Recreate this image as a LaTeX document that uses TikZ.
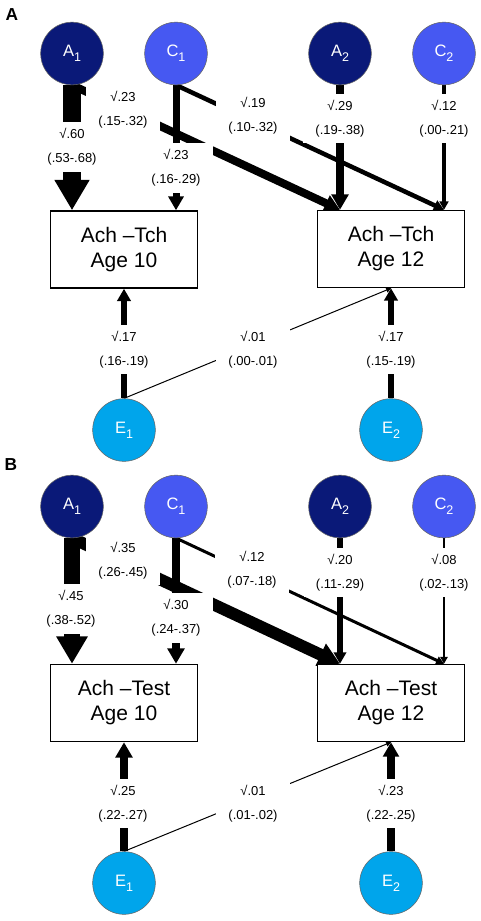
\documentclass[tikz,border=0pt]{standalone}
\usepackage{fontspec}
\setmainfont{Liberation Sans}
\usetikzlibrary{arrows.meta}

\definecolor{acol}{RGB}{10,25,120}
\definecolor{ccol}{RGB}{70,88,242}
\definecolor{ecol}{RGB}{0,165,235}

\newcommand{\latsub}[1]{\raisebox{-3.5pt}{\fontsize{9.4}{9.4}\selectfont #1}}

\pgfdeclarelayer{back}
\pgfsetlayers{back,main}

\tikzset{every picture/.style={line width=0.75pt}}
\tikzset{
	latent/.style={circle, draw=black!60, line width=0.4pt, minimum size=47pt, inner sep=0pt, text=white, font=\fontsize{12.4}{12.4}\selectfont},
	measure/.style={draw, fill=white, line width=1.1pt, minimum width=110.25pt, minimum height=57.75pt, align=center, font=\fontsize{15.75}{18.75}\selectfont},
	estim/.style={fill=white, align=center, inner xsep=9pt, inner ysep=4.6pt, font=\fontsize{9.75}{18}\selectfont},
	pathcoef/.style={-{Triangle[length=2.5pt 1.5,width=2.5pt 1.65]}},
	panel/.style={font=\fontsize{13}{13}\selectfont\bfseries}
}

\begin{document}
\begin{tikzpicture}[x=0.75pt,y=0.75pt,yscale=-1,xscale=1]
	\useasboundingbox (0,0) rectangle (481,921);

	% ---------- Panel A ----------
	\node [panel] (pa) at (12,14.5) {A};
	%Shape: Circles
	\node [latent, fill=acol] (A1a) at (72,53.5) {A\latsub{1}};
	\node [latent, fill=ccol] (C1a) at (176,53.5) {C\latsub{1}};
	\node [latent, fill=acol] (A2a) at (340,53.5) {A\latsub{2}};
	\node [latent, fill=ccol] (C2a) at (444,53.5) {C\latsub{2}};
	\node [latent, fill=ecol] (E1a) at (124,430) {E\latsub{1}};
	\node [latent, fill=ecol] (E2a) at (391,430) {E\latsub{2}};
	%Shape: Rectangles
	\node [measure] (T10a) at (124,249.5) {Ach –Tch\\Age 10};
	\node [measure] (T12a) at (391,249) {Ach –Tch\\Age 12};

	%Straight Lines
	\begin{pgfonlayer}{back}
	\draw [pathcoef, line width=13.5pt] (A1a.south) -- (A1a.south |- T10a.north);
	\draw [pathcoef, line width=6pt] (A1a.south) -- (A2a.south |- T12a.north);
	\draw [pathcoef, line width=5.25pt] (C1a.south) -- (C1a.south |- T10a.north);
	\draw [pathcoef, line width=3.4pt] (C1a.south) -- (C2a.south |- T12a.north);
	\draw [pathcoef, line width=6pt] (A2a.south) -- (A2a.south |- T12a.north);
	\draw [pathcoef, line width=2.5pt] (C2a.south) -- (C2a.south |- T12a.north);
	\draw [pathcoef, line width=4.5pt] (E1a.north) -- (T10a.south);
	\draw [pathcoef, line width=0.75pt] (E1a.north) -- (T12a.south);
	\draw [pathcoef, line width=4.5pt] (E2a.north) -- (T12a.south);
	\end{pgfonlayer}

	% Text Node
	\node [estim] (a1) at (72,147) {√.60\\(.53-.68)};
	% Text Node
	\node [estim] (a2) at (123,109.5) {√.23\\(.15-.32)};
	% Text Node
	\node [estim] (a3) at (176,168) {√.23\\(.16-.29)};
	% Text Node
	\node [estim] (a4) at (253,116) {√.19\\(.10-.32)};
	% Text Node
	\node [estim] (a5) at (340,118.5) {√.29\\(.19-.38)};
	% Text Node
	\node [estim] (a6) at (444,118.5) {√.12\\(.00-.21)};
	% Text Node
	\node [estim] (a7) at (124,349.5) {√.17\\(.16-.19)};
	% Text Node
	\node [estim] (a8) at (253,349.5) {√.01\\(.00-.01)};
	% Text Node
	\node [estim] (a9) at (391,349.5) {√.17\\(.15-.19)};

	% ---------- Panel B ----------
	\node [panel] (pb) at (11,465) {B};
	%Shape: Circles
	\node [latent, fill=acol] (A1b) at (72,506.5) {A\latsub{1}};
	\node [latent, fill=ccol] (C1b) at (176,506.5) {C\latsub{1}};
	\node [latent, fill=acol] (A2b) at (340,506.5) {A\latsub{2}};
	\node [latent, fill=ccol] (C2b) at (444,506.5) {C\latsub{2}};
	\node [latent, fill=ecol] (E1b) at (124,883) {E\latsub{1}};
	\node [latent, fill=ecol] (E2b) at (391,883) {E\latsub{2}};
	%Shape: Rectangles
	\node [measure] (T10b) at (124,703) {Ach –Test\\Age 10};
	\node [measure] (T12b) at (391,703) {Ach –Test\\Age 12};

	%Straight Lines
	\begin{pgfonlayer}{back}
	\draw [pathcoef, line width=12pt] (A1b.south) -- (A1b.south |- T10b.north);
	\draw [pathcoef, line width=9pt] (A1b.south) -- (A2b.south |- T12b.north);
	\draw [pathcoef, line width=6pt] (C1b.south) -- (C1b.south |- T10b.north);
	\draw [pathcoef, line width=2.25pt] (C1b.south) -- (C2b.south |- T12b.north);
	\draw [pathcoef, line width=4pt] (A2b.south) -- (A2b.south |- T12b.north);
	\draw [pathcoef, line width=1.75pt] (C2b.south) -- (C2b.south |- T12b.north);
	\draw [pathcoef, line width=6pt] (E1b.north) -- (T10b.south);
	\draw [pathcoef, line width=0.75pt] (E1b.north) -- (T12b.south);
	\draw [pathcoef, line width=5.5pt] (E2b.north) -- (T12b.south);
	\end{pgfonlayer}

	% Text Node
	\node [estim] (b1) at (71,609) {√.45\\(.38-.52)};
	% Text Node
	\node [estim] (b2) at (123,560.5) {√.35\\(.26-.45)};
	% Text Node
	\node [estim] (b3) at (176,618) {√.30\\(.24-.37)};
	% Text Node
	\node [estim] (b4) at (252,569.5) {√.12\\(.07-.18)};
	% Text Node
	\node [estim] (b5) at (340,572.5) {√.20\\(.11-.29)};
	% Text Node
	\node [estim] (b6) at (444,572.5) {√.08\\(.02-.13)};
	% Text Node
	\node [estim] (b7) at (123,803.5) {√.25\\(.22-.27)};
	% Text Node
	\node [estim] (b8) at (253,803.5) {√.01\\(.01-.02)};
	% Text Node
	\node [estim] (b9) at (391,803.5) {√.23\\(.22-.25)};

\end{tikzpicture}
\end{document}
